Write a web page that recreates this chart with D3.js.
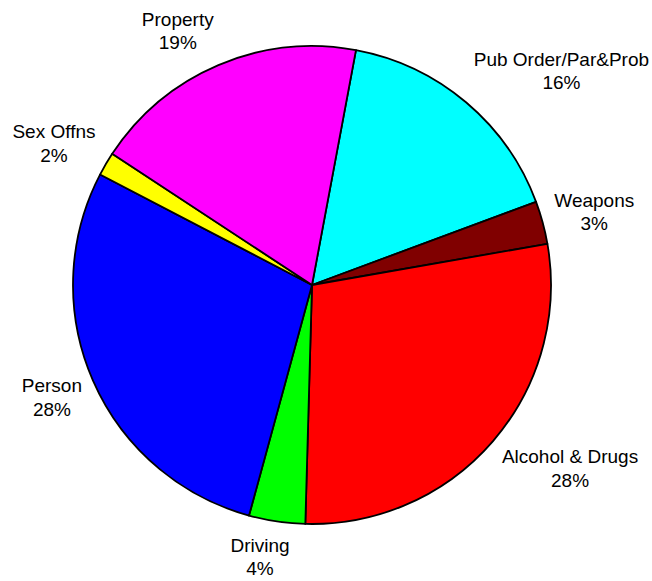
<!DOCTYPE html>
<html>
<head>
<meta charset="utf-8">
<script src="https://cdn.jsdelivr.net/npm/d3@7"></script>
<style>
  body { margin: 0; background: #fff; }
  text { font-family: "Liberation Sans", Arial, sans-serif; font-size: 19px; fill: #000; }
</style>
</head>
<body>
<svg id="chart" width="652" height="581"></svg>
<script>
// offence categories, clockwise from the top
let categories = ['Pub Order/Par&Prob', 'Weapons', 'Alcohol & Drugs', 'Driving', 'Person', 'Sex Offns', 'Property'];
let shares = [16.4, 2.9, 28.2, 3.8, 28.4, 1.6, 18.7];
let colors = ['#00ffff', '#800000', '#ff0000', '#00ff00', '#0000ff', '#ffff00', '#ff00ff'];

let data = categories.map((c, i) => ({ name: c, value: shares[i], color: colors[i] }));

let svg = d3.select('#chart');
let cx = 312, cy = 285, radius = 239;
let g = svg.append('g').attr('transform', `translate(${cx},${cy})`);

let startDeg = 10.6;
let pie = d3.pie()
  .sort(null)
  .value(d => d.value)
  .startAngle(startDeg * Math.PI / 180)
  .endAngle((startDeg + 360) * Math.PI / 180);

let arc = d3.arc().innerRadius(0).outerRadius(radius);
let arcs = pie(data);

g.selectAll('path')
  .data(arcs)
  .join('path')
  .attr('d', arc)
  .attr('fill', d => d.data.color)
  .attr('stroke', '#000')
  .attr('stroke-width', 1.8)
  .attr('stroke-linejoin', 'round');

// labels sit just outside the pie, pushed out by their own box size
let clamp = v => Math.max(-1, Math.min(1, v));
let lineGap = 23.5, boxH = 47;
let pct = d3.format('.0f');

let labels = g.selectAll('text.lbl')
  .data(arcs)
  .join('text')
  .attr('class', 'lbl')
  .attr('text-anchor', 'middle');

labels.append('tspan').attr('x', 0).attr('dy', 0).text(d => d.data.name);
labels.append('tspan').attr('x', 0).attr('dy', lineGap).text(d => pct(d.data.value) + '%');

labels.each(function(d) {
  let el = d3.select(this);
  let w = d3.max(el.selectAll('tspan').nodes(), n => n.getComputedTextLength());
  let a = (d.startAngle + d.endAngle) / 2;
  let s = Math.sin(a), c = Math.cos(a);
  let r = radius + 12;
  let x = r * s + (w / 2) * clamp(s * 3.5);
  let y = -r * c - (boxH / 2) * clamp(c * 1.25);
  el.attr('transform', `translate(${x},${y - 5})`);
});
</script>
</body>
</html>
